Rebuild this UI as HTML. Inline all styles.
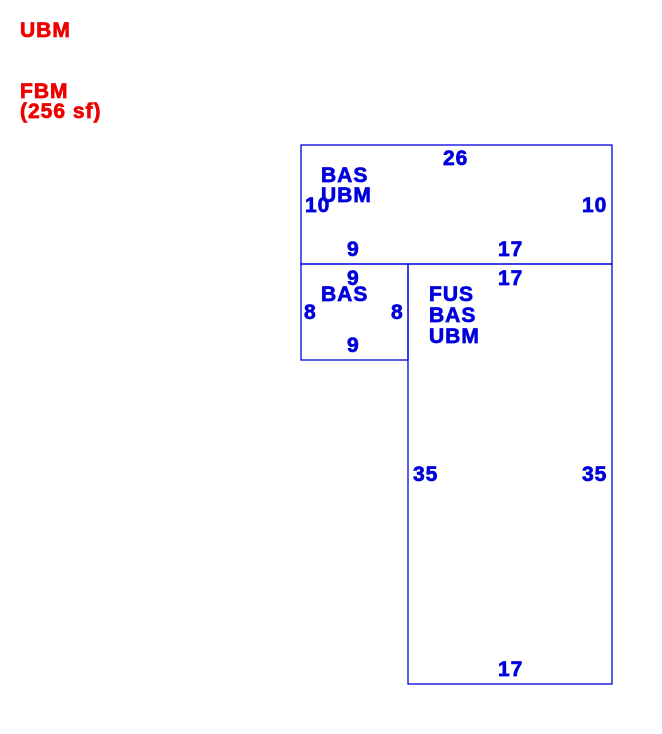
<!DOCTYPE html>
<html><head><meta charset="utf-8"><style>
html,body{margin:0;padding:0;background:#fff;width:662px;height:734px;overflow:hidden}
text{font-family:"Liberation Sans",Arial,sans-serif;font-weight:700;font-size:21px;letter-spacing:1px;stroke-width:0.7px}
.b{fill:#0000dd;stroke:#0000dd}.r{fill:#ee0000;stroke:#ee0000}
</style></head><body>
<svg width="662" height="734" xmlns="http://www.w3.org/2000/svg">
<g stroke="#0000dd" stroke-width="1.3" fill="none">
<rect x="301" y="145" width="311" height="119"/>
<rect x="301" y="264" width="107" height="96"/>
<rect x="408" y="264" width="204" height="420"/>
</g>
<text class="r" font-weight="bold" x="20" y="37">UBM</text>
<text class="r" font-weight="bold" x="20" y="98">FBM</text>
<text class="r" font-weight="bold" x="20" y="118">(256 sf)</text>
<g class="b" font-weight="bold">
<text x="443" y="165">26</text>
<text x="321" y="182">BAS</text>
<text x="321" y="202">UBM</text>
<text x="305" y="212">10</text>
<text x="582" y="212">10</text>
<text x="347" y="256">9</text>
<text x="498" y="256">17</text>
<text x="347" y="285">9</text>
<text x="498" y="285">17</text>
<text x="321" y="301">BAS</text>
<text x="304" y="319">8</text>
<text x="391" y="319">8</text>
<text x="347" y="352">9</text>
<text x="429" y="301">FUS</text>
<text x="429" y="322">BAS</text>
<text x="429" y="343">UBM</text>
<text x="413" y="481">35</text>
<text x="582" y="481">35</text>
<text x="498" y="676">17</text>
</g>
</svg>
</body></html>
